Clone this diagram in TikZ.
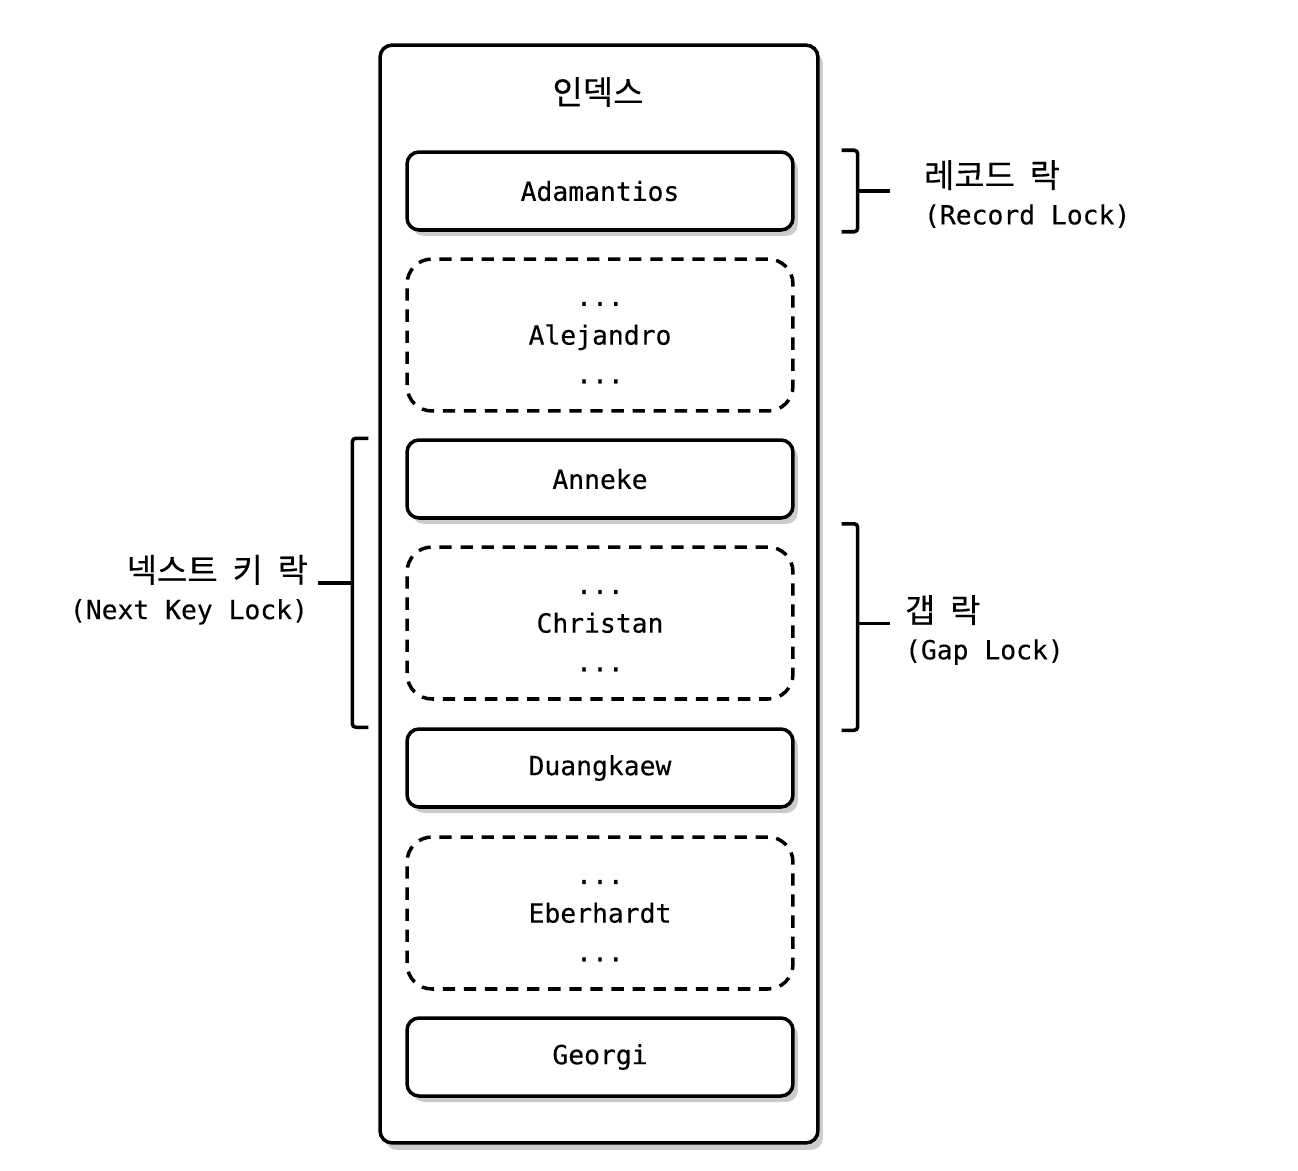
\documentclass[tikz,border=0pt]{standalone}
\usepackage{fontspec}
\setmainfont{DejaVu Sans Mono}[FakeBold=0.3]
\newfontfamily\kr{Noto Sans CJK KR}[Scale=1.25, FakeBold=0.25]
\newcommand{\ksp}{\hspace{0.45em}}
\usetikzlibrary{shadows,calc,positioning}

\tikzset{
  rowbox/.style={draw, rounded corners=0.24cm, line width=2pt, fill=white,
    minimum width=7.72cm, minimum height=1.56cm,
    drop shadow={shadow xshift=0.1cm, shadow yshift=-0.12cm, fill=black!40}},
  gapbox/.style={draw, rounded corners=0.5cm, line width=2pt,
    dash pattern=on 7pt off 5pt, minimum width=7.72cm, minimum height=3.04cm,
    align=center},
  brace/.style={line width=2pt, rounded corners=2pt},
  lbl/.style={font=\fontsize{15}{21}\selectfont, inner sep=0pt}
}

\begin{document}
\begin{tikzpicture}[x=0.02cm, y=-0.02cm, font=\fontsize{15}{22}\selectfont]
  \useasboundingbox (0,0) rectangle (1298,1170);

  % --- the index column ---
  \node (idx) [draw, rounded corners=0.24cm, line width=2pt, fill=white,
    minimum width=8.76cm, minimum height=21.96cm,
    drop shadow={shadow xshift=0.1cm, shadow yshift=-0.14cm, fill=black!40}]
    at (599,594) {};
  \node (title) at (598,92) {\kr 인덱스};

  \node (adam)  [rowbox] at (600,191) {Adamantios};
  \node (alej)  [gapbox] at (600,335) {\vphantom{A}...\\Alejandro\\...};
  \node (anne)  [rowbox] at (600,479) {Anneke};
  \node (chri)  [gapbox] at (600,623) {\vphantom{A}...\\Christan\\...};
  \node (duang) [rowbox] at (600,768) {Duangkaew};
  \node (eber)  [gapbox] at (600,913) {\vphantom{A}...\\Eberhardt\\...};
  \node (geo)   [rowbox] at (600,1057) {Georgi};

  % --- record lock: one record ---
  \coordinate (rl) at ($(adam.east)+(1.26cm,0)$);
  \draw[brace] ($(adam.north east)+(0.94cm,0)$) -| (rl) |- ($(adam.south east)+(0.94cm,0)$);
  \draw[brace] (rl) -- ++(0.64cm,0) coordinate (rlend);
  \node (rec) [lbl, anchor=west, align=left] at ($(rlend)+(0.68cm,-0.06cm)$)
    {{\kr 레코드\ksp 락}\\(Record Lock)};

  % --- next key lock: record plus the gap before it ---
  \coordinate (nkl) at ($(anne.north west)!0.5!(duang.north west)+(-1.06cm,0)$);
  \draw[brace] ($(anne.north west)+(-0.74cm,0)$) -| (nkl) |- ($(duang.north west)+(-0.74cm,0)$);
  \draw[brace] (nkl) -- ++(-0.68cm,0) coordinate (nklend);
  \node (nxt) [lbl, anchor=east, align=right] at ($(nklend)+(-0.2cm,-0.14cm)$)
    {{\kr 넥스트\ksp 키\ksp 락}\\(Next Key Lock)};

  % --- gap lock: between two records ---
  \coordinate (gl) at ($(anne.south east)!0.5!(duang.north east)+(1.26cm,0)$);
  \draw[brace] ($(anne.south east)+(0.94cm,-0.08cm)$) -| (gl) |- ($(duang.north east)+(0.94cm,-0.06cm)$);
  \draw[brace] (gl) -- ++(0.64cm,0) coordinate (glend);
  \node (gap) [lbl, anchor=west, align=left] at ($(glend)+(0.3cm,-0.13cm)$)
    {{\kr 갭\ksp 락}\\(Gap Lock)};
\end{tikzpicture}
\end{document}
